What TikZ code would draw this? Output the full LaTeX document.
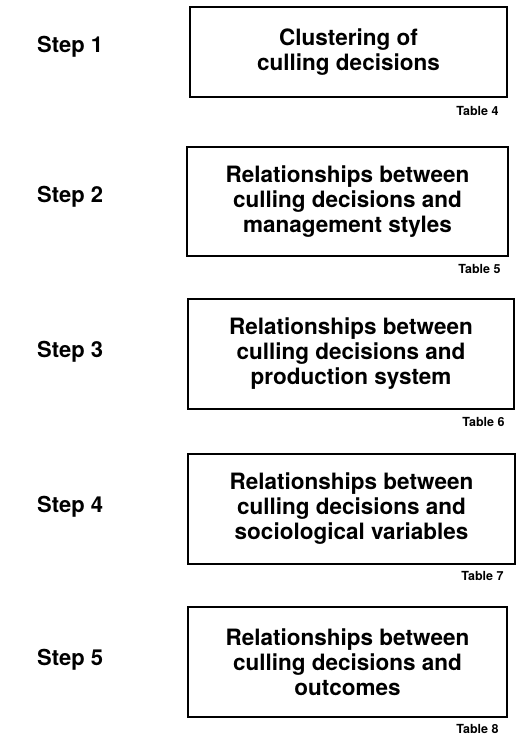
\documentclass[tikz,border=0pt]{standalone}
\usepackage{fontspec}
\setmainfont{TeX Gyre Heros}
\usetikzlibrary{calc}
\tikzset{
  stepbox/.style={draw=black, line width=1.5pt, align=center, inner sep=0pt,
    font=\fontsize{22.5}{25}\selectfont\bfseries},
  steplabel/.style={anchor=west, inner sep=0pt, font=\fontsize{22}{24}\selectfont\bfseries},
  tablabel/.style={anchor=east, inner sep=0pt, font=\fontsize{12.5}{14}\selectfont\bfseries}
}
\begin{document}
\begin{tikzpicture}[x=1pt,y=-1pt]
\useasboundingbox (0,0) rectangle (516,738);
\fill[white] (0,0) rectangle (516,738);

\node[stepbox, minimum width=317pt, minimum height=90pt] (b1) at (348.5,52) {Clustering of\\culling decisions};
\node[stepbox, minimum width=321pt, minimum height=109pt] (b2) at (347.5,201.5) {Relationships between\\culling decisions and\\management styles};
\node[stepbox, minimum width=326pt, minimum height=110pt] (b3) at (351,354) {Relationships between\\culling decisions and\\production system};
\node[stepbox, minimum width=327pt, minimum height=110pt] (b4) at (351.5,509) {Relationships between\\culling decisions and\\sociological variables};
\node[stepbox, minimum width=319pt, minimum height=110pt] (b5) at (347.5,662) {Relationships between\\culling decisions and\\outcomes};

\node[steplabel] (s1) at (37,47) {Step 1};
\node[steplabel] (s2) at (37,197) {Step 2};
\node[steplabel] (s3) at (37,352) {Step 3};
\node[steplabel] (s4) at (37,507) {Step 4};
\node[steplabel] (s5) at (37,660) {Step 5};

\node[tablabel] (t4) at ($(b1.south east)+(-9,13)$) {Table 4};
\node[tablabel] (t5) at ($(b2.south east)+(-8,12)$) {Table 5};
\node[tablabel] (t6) at ($(b3.south east)+(-10,12)$) {Table 6};
\node[tablabel] (t7) at ($(b4.south east)+(-12,11)$) {Table 7};
\node[tablabel] (t8) at ($(b5.south east)+(-9,11)$) {Table 8};
\end{tikzpicture}
\end{document}
